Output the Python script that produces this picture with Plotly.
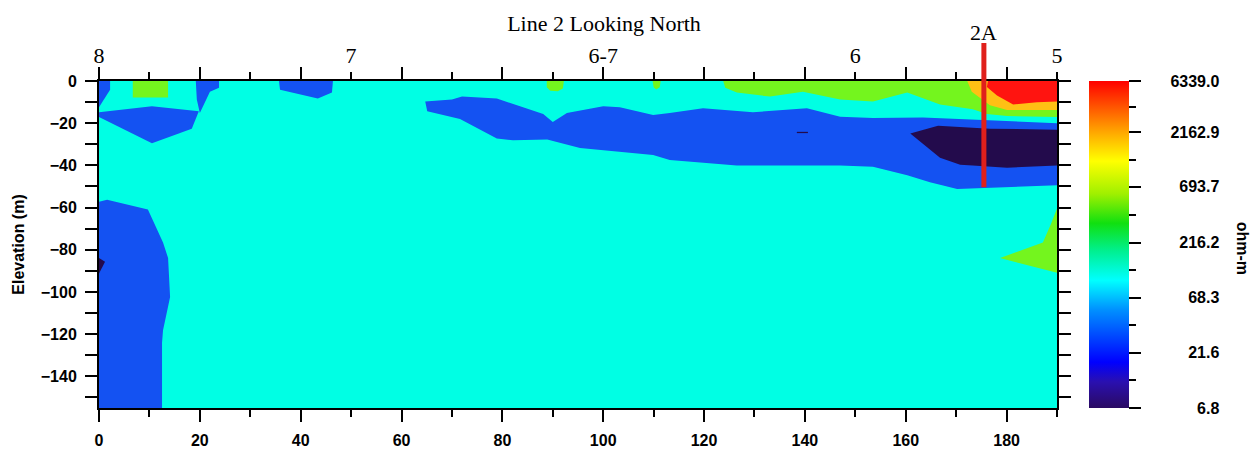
import numpy as np
import plotly.graph_objects as go

# ---------------- axes data ----------------
x_range = [0, 190]
y_range = [-155, 0]
bottom_tick_step = 20
y_tick_step = 20
top_tick_pos = [0, 50, 100, 150, 190]
top_tick_labels = ["8", "7", "6-7", "6", "5"]

title_text = "Line 2 Looking North"
borehole_label = "2A"
borehole_x = 175.5
borehole_bottom = -50.4

cb_labels = [6.8, 21.6, 68.3, 216.2, 693.7, 2162.9, 6339.0]
cb_title = "ohm-m"

# ---------------- resistivity regions (x in m, elevation in m) ----------------
# blue (~21-68 ohm-m)
blue_corner_x = [0, 2.2, 2.2, 1.0, 0]
blue_corner_y = [0, 0, -4.2, -8.8, -12.5]

blue_x20_x = [19.2, 23.8, 23.8, 22.0, 20.0, 19.4]
blue_x20_y = [0, 0, -3.2, -5.1, -15.2, -8.8]

blue_leftband_x = [0, 10.5, 19.8, 18.4, 10.5, 0]
blue_leftband_y = [-14.8, -12.0, -14.3, -22.6, -29.5, -17.1]

blue_x40_x = [35.7, 46.4, 46.2, 43.4, 35.9]
blue_x40_y = [0, 0, -5.5, -8.3, -4.2]

band_top_x = [64.7, 70.0, 72.0, 78.9, 83.5, 88.1, 90.0, 92.8, 100.0, 103.3, 109.9,
              113.2, 119.8, 129.7, 140.4, 147.0, 153.5, 163.4, 175.3, 180.1, 190]
band_top_y = [-9.7, -8.8, -7.4, -8.3, -12.0, -15.7, -19.4, -15.2, -12.0, -12.5, -16.1,
              -15.2, -12.9, -14.8, -12.9, -17.0, -17.5, -17.3, -18.5, -18.9, -20.0]
band_bot_x = [190, 181.3, 170.2, 164.8, 160.3, 153.5, 147.0, 126.5, 113.2, 109.9,
              95.4, 88.9, 82.1, 78.9, 71.6, 65.1]
band_bot_y = [-49.4, -50.3, -51.2, -48.0, -44.7, -40.6, -40.1, -40.1, -37.4, -35.1,
              -31.8, -27.7, -28.1, -27.2, -18.0, -14.3]

blue_deep_x = [0, 1.6, 9.7, 12.7, 13.7, 14.1, 12.7, 12.5, 12.5, 0]
blue_deep_y = [-57.2, -56.3, -60.9, -76.6, -83.9, -102.4, -118.1, -124.1, -155, -155]

# dark (< 21 ohm-m)
navy_right_x = [160.9, 166.4, 176.7, 190, 190, 180.1, 173.3, 170.8, 166.8]
navy_right_y = [-24.9, -21.2, -22.6, -23.1, -40.1, -41.1, -40.1, -39.7, -36.4]

navy_left_x = [0, 1.2, 0]
navy_left_y = [-83.9, -85.7, -91.3]

navy_dash_x = [138.4, 140.6, 140.6, 138.4]
navy_dash_y = [-24.1, -24.1, -24.7, -24.7]

# green (~216-694 ohm-m)
green_rect_x = [6.7, 13.7, 13.7, 6.7]
green_rect_y = [0, 0, -7.8, -7.8]

green_spot1_x = [88.8, 92.2, 92.0, 91.0, 89.5, 88.8]
green_spot1_y = [0, 0, -3.5, -4.8, -4.6, -3.0]

green_spot2_x = [109.8, 111.4, 111.2, 110.5, 110.0]
green_spot2_y = [0, 0, -3.0, -4.0, -3.0]

green_top_x = [123.8, 124.2, 126.5, 133.1, 139.6, 147.0, 153.5, 160.3, 166.8, 173.3,
               176.1, 180.1, 190, 190]
green_top_y = [0, -3.2, -5.5, -7.4, -5.1, -8.8, -9.7, -5.5, -11.1, -13.4,
               -15.7, -16.6, -17.1, 0]

green_deep_x = [190, 188.8, 187.2, 178.7, 190]
green_deep_y = [-60.4, -67.8, -76.6, -83.9, -90.9]

# orange (~694-2163 ohm-m)
orange_x = [172.2, 190, 190, 180.1, 176.7, 175.1, 173.1]
orange_y = [0, 0, -13.8, -13.8, -11.5, -8.8, -5.1]

# red (> 2163 ohm-m)
red_x = [176.3, 190, 190, 186.0, 181.3, 178.1, 176.1]
red_y = [0, 0, -9.7, -10.1, -11.1, -6.9, -2.8]

# ---------------- styles ----------------
band_colors = {
    "cyan": "#00FFE4",
    "blue": "#1452F2",
    "navy": "#230B4C",
    "green": "#74F51E",
    "orange": "#FFC014",
    "red": "#FF1410",
}

regions = [
    ("blue", blue_corner_x, blue_corner_y),
    ("blue", blue_x20_x, blue_x20_y),
    ("blue", blue_leftband_x, blue_leftband_y),
    ("blue", blue_x40_x, blue_x40_y),
    ("blue", band_top_x + band_bot_x, band_top_y + band_bot_y),
    ("blue", blue_deep_x, blue_deep_y),
    ("navy", navy_right_x, navy_right_y),
    ("navy", navy_left_x, navy_left_y),
    ("navy", navy_dash_x, navy_dash_y),
    ("green", green_rect_x, green_rect_y),
    ("green", green_spot1_x, green_spot1_y),
    ("green", green_spot2_x, green_spot2_y),
    ("green", green_top_x, green_top_y),
    ("green", green_deep_x, green_deep_y),
    ("orange", orange_x, orange_y),
    ("red", red_x, red_y),
]

cb_colorscale = [
    [0.00, "#2A0A62"],
    [0.08, "#2A10B0"],
    [0.14, "#0000FF"],
    [0.30, "#0090FF"],
    [0.39, "#00FFFF"],
    [0.48, "#00F090"],
    [0.565, "#10E010"],
    [0.655, "#A0F000"],
    [0.755, "#FFFF00"],
    [0.835, "#FFB000"],
    [0.925, "#FF5000"],
    [1.00, "#FF0000"],
]

sans = "Liberation Sans"
serif = "Liberation Serif"
bold_size = 16

fig = go.Figure()

for cls, xs, ys in regions:
    fig.add_trace(go.Scatter(
        x=list(xs) + [xs[0]], y=list(ys) + [ys[0]],
        mode="lines", fill="toself", fillcolor=band_colors[cls],
        line=dict(width=0, color=band_colors[cls]),
        hoverinfo="skip", showlegend=False,
    ))

# colorbar (log10 of resistivity)
logs = np.log10(cb_labels)
cmin, cmax = float(logs[0]), float(logs[-1])
minor_vals = [(logs[i] + logs[i + 1]) / 2 for i in range(len(logs) - 1)]
width_chars = max(len(f"{v:.1f}") for v in cb_labels)
cb_text = ["\u2007" * 3 + f"{v:.1f}".rjust(width_chars, "\u2007") for v in cb_labels]

cb_common = dict(
    x=(1089 - 99) / 958, xanchor="left", xref="paper",
    y=0.5, yanchor="middle", len=1, lenmode="fraction",
    thickness=40, thicknessmode="pixels", xpad=0, ypad=0,
    outlinewidth=0, tickcolor="black", tickwidth=2,
)

fig.add_trace(go.Scatter(
    x=[0], y=[-400], mode="markers", xaxis="x2",
    marker=dict(color=[cmin], colorscale=cb_colorscale, cmin=cmin, cmax=cmax, opacity=0,
                showscale=True,
                colorbar=dict(**cb_common, tickmode="array", tickvals=list(minor_vals),
                              ticktext=[""] * len(minor_vals), ticks="outside", ticklen=7,
                              showticklabels=False)),
    hoverinfo="skip", showlegend=False,
))
fig.add_trace(go.Scatter(
    x=[0], y=[-400], mode="markers", xaxis="x2",
    marker=dict(color=[cmin], colorscale=cb_colorscale, cmin=cmin, cmax=cmax, opacity=0,
                showscale=True,
                colorbar=dict(**cb_common, tickmode="array", tickvals=list(logs),
                              ticktext=cb_text, ticks="outside", ticklen=12,
                              tickfont=dict(family=sans, size=bold_size, color="black",
                                            weight="bold"))),
    hoverinfo="skip", showlegend=False,
))

# borehole marker line
y_span = y_range[1] - y_range[0]
fig.add_shape(type="line", xref="x", yref="paper",
              x0=borehole_x, x1=borehole_x,
              y0=(borehole_bottom - y_range[0]) / y_span, y1=1.116,
              line=dict(color="#E0201C", width=5), layer="above")
fig.add_annotation(x=borehole_x, xref="x", y=1.147, yref="paper", text=borehole_label,
                   showarrow=False, xanchor="center", yanchor="middle",
                   font=dict(family=serif, size=22, color="black"))

fig.add_annotation(x=(1242 - 99) / 958, xref="paper", y=0.49, yref="paper", text=cb_title,
                   showarrow=False, textangle=90, xanchor="center", yanchor="middle",
                   font=dict(family=sans, size=bold_size, color="black", weight="bold"))

axis_common = dict(showline=True, linewidth=2, linecolor="black", mirror="allticks",
                   ticks="outside", tickwidth=2, tickcolor="black", showgrid=False,
                   zeroline=False,
                   tickfont=dict(family=sans, size=bold_size, color="black", weight="bold"))

fig.update_layout(
    width=1260, height=461, autosize=False,
    margin=dict(l=99, r=203, t=81, b=44, pad=0),
    paper_bgcolor="white", plot_bgcolor=band_colors["cyan"],
    title=dict(text=title_text, x=(604 - 99) / 958, xref="paper", xanchor="center",
               y=1 - 23 / 461, yref="container", yanchor="middle",
               font=dict(family=serif, size=22, color="black")),
    xaxis=dict(range=x_range, tick0=0, dtick=bottom_tick_step, ticklen=12,
               ticklabelstandoff=5,
               minor=dict(dtick=bottom_tick_step / 2, ticks="outside", ticklen=7,
                          tickwidth=2, tickcolor="black"),
               **axis_common),
    yaxis=dict(range=y_range, tick0=0, dtick=y_tick_step, ticklen=12,
               ticklabelstandoff=5,
               minor=dict(dtick=y_tick_step / 2, ticks="outside", ticklen=8,
                          tickwidth=2, tickcolor="black"),
               title=dict(text="Elevation (m)", standoff=12,
                          font=dict(family=sans, size=bold_size, color="black",
                                    weight="bold")),
               **axis_common),
    xaxis2=dict(range=x_range, overlaying="x", side="top", anchor="y",
                tickmode="array", tickvals=top_tick_pos, ticktext=top_tick_labels,
                ticks="", showline=False, showgrid=False, zeroline=False,
                ticklabelstandoff=13,
                tickfont=dict(family=serif, size=22, color="black")),
)

fig.write_html("out.html")
